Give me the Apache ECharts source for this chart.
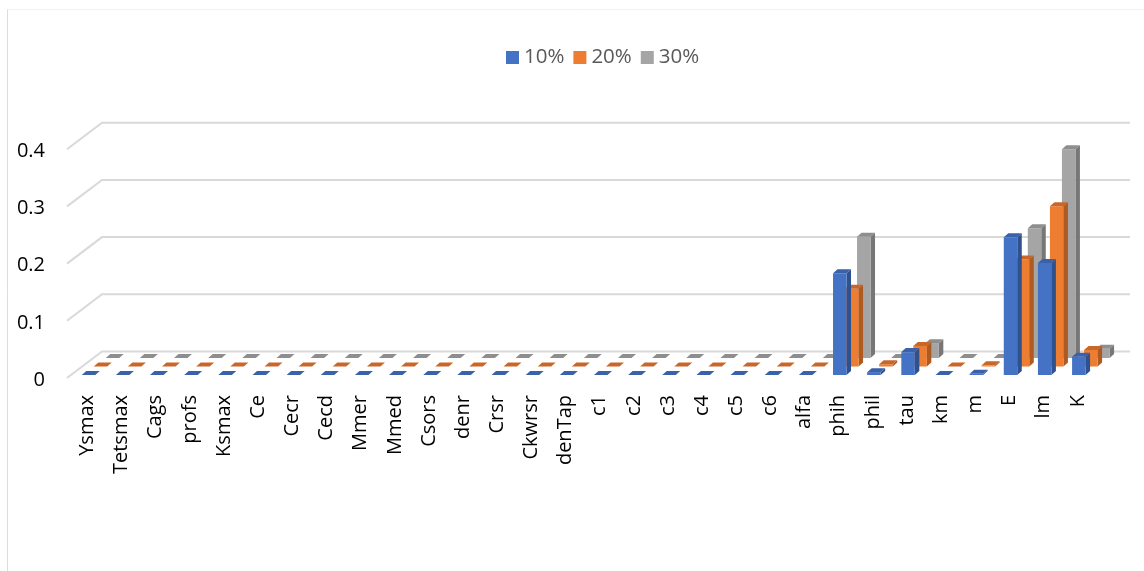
<!DOCTYPE html>
<html>
<head>
<meta charset="utf-8">
<script src="https://cdn.jsdelivr.net/npm/echarts@6/dist/echarts.min.js"></script>
<style>
  html, body { margin: 0; padding: 0; background: #ffffff; }
  #chart { width: 1144px; height: 571px; }
</style>
</head>
<body>
<div id="chart"></div>
<script>
// Parameter names along the category axis
const categories = ['Ysmax', 'Tetsmax', 'Cags', 'profs', 'Ksmax', 'Ce', 'Cecr', 'Cecd', 'Mmer', 'Mmed',
  'Csors', 'denr', 'Crsr', 'Ckwrsr', 'denTap', 'c1', 'c2', 'c3', 'c4', 'c5', 'c6',
  'alfa', 'phih', 'phil', 'tau', 'km', 'm', 'E', 'lm', 'K'];

// Sensitivity values per variation level
const s10 = [0, 0, 0, 0, 0, 0, 0, 0, 0, 0, 0, 0, 0, 0, 0, 0, 0, 0, 0, 0, 0,
  0, 0.178, 0.005, 0.040, 0, 0.002, 0.241, 0.196, 0.032];
const s20 = [0, 0, 0, 0, 0, 0, 0, 0, 0, 0, 0, 0, 0, 0, 0, 0, 0, 0, 0, 0, 0,
  0, 0.136, 0.004, 0.036, 0, 0.002, 0.187, 0.280, 0.029];
const s30 = [0, 0, 0, 0, 0, 0, 0, 0, 0, 0, 0, 0, 0, 0, 0, 0, 0, 0, 0, 0, 0,
  0, 0.212, 0, 0.026, 0, 0, 0.227, 0.365, 0.016];

const seriesNames = ['10%', '20%', '30%'];
const yTicks = [0, 0.1, 0.2, 0.3, 0.4];

// Face colours: front, side, top
const palette = [
  { front: '#4472C4', side: '#2F528F', top: '#3A62AA' },
  { front: '#ED7D31', side: '#AE5A21', top: '#C9672A' },
  { front: '#A5A5A5', side: '#777777', top: '#8E8E8E' }
];

const FONT = "'Open Sans', 'Noto Sans', sans-serif";

// Pseudo-3D geometry
const BAR_W = 13.5;      // front face width
const SIDE_DX = 4.5;     // depth of each bar (x)
const SIDE_DY = -4;      // depth of each bar (y)
const ROW_DX = 12;       // shift of each series row
const ROW_DY = -8.5;
const FLOOR_LIFT = 5;    // first row sits slightly behind the front edge
const WALL_DX = 35;      // wall depth for gridlines
const WALL_DY = -26.5;

function barSeries(k, values) {
  const col = palette[k];
  return {
    name: seriesNames[k],
    type: 'custom',
    z: 10 - k,
    clip: false,
    itemStyle: { color: col.front },
    encode: { x: 0, y: 1 },
    data: values.map((v, i) => [i, v]),
    renderItem: function (params, api) {
      const i = api.value(0);
      const v = api.value(1);
      const base = api.coord([i, 0]);
      const topP = api.coord([i, v]);
      const x0 = base[0] - 5.75 + ROW_DX * k;
      const yb = base[1] - FLOOR_LIFT + ROW_DY * k;
      const yt = topP[1] - FLOOR_LIFT + ROW_DY * k;
      const x1 = x0 + BAR_W;
      const children = [];
      if (yb - yt > 0.01) {
        children.push({
          type: 'polygon',
          shape: { points: [[x1, yb], [x1 + SIDE_DX, yb + SIDE_DY], [x1 + SIDE_DX, yt + SIDE_DY], [x1, yt]] },
          style: { fill: col.side }
        });
        children.push({
          type: 'rect',
          shape: { x: x0, y: yt, width: BAR_W, height: yb - yt },
          style: { fill: col.front }
        });
      }
      children.push({
        type: 'polygon',
        shape: { points: [[x0, yt], [x1, yt], [x1 + SIDE_DX, yt + SIDE_DY], [x0 + SIDE_DX, yt + SIDE_DY]] },
        style: { fill: col.top }
      });
      return { type: 'group', children: children };
    }
  };
}

const chart = echarts.init(document.getElementById('chart'), null, { renderer: 'canvas' });

const option = {
  backgroundColor: '#ffffff',
  animation: false,
  textStyle: { fontFamily: FONT },
  graphic: [
    { type: 'rect', shape: { x: 7.5, y: 9.5, width: 1150, height: 580 }, style: { fill: 'none', stroke: '#eef2f7', lineWidth: 1 }, z: -10 },
    { type: 'line', shape: { x1: 7.5, y1: 9.5, x2: 7.5, y2: 571 }, style: { stroke: '#d3dff1', lineWidth: 1 }, z: -10 }
  ],
  legend: {
    data: seriesNames,
    left: 501,
    top: 42,
    icon: 'rect',
    itemWidth: 13,
    itemHeight: 13,
    itemGap: 9,
    textStyle: { fontSize: 20.5, color: '#595959', fontFamily: FONT }
  },
  grid: { left: 70.4, right: 49.1, top: 151.2, bottom: 191 },
  xAxis: {
    type: 'category',
    data: categories,
    axisLine: { show: false },
    axisTick: { show: false },
    axisLabel: {
      rotate: 90,
      interval: 0,
      margin: 15,
      fontSize: 20,
      color: '#000000',
      fontFamily: FONT
    }
  },
  yAxis: {
    type: 'value',
    min: 0,
    max: 0.4,
    interval: 0.1,
    axisLine: { show: false },
    axisTick: { show: false },
    splitLine: { show: false },
    axisLabel: { fontSize: 20, color: '#000000', margin: 25.4, fontFamily: FONT }
  },
  series: [
    // Gridlines bent along the floor/left wall
    {
      type: 'custom',
      z: 1,
      clip: false,
      silent: true,
      encode: { x: 0, y: 1 },
      data: yTicks.map(v => [0, v]),
      renderItem: function (params, api) {
        const y = api.coord([0, api.value(1)])[1];
        const gx = params.coordSys.x - 3.4;
        const right = api.getWidth() - 14;
        return {
          type: 'polyline',
          shape: { points: [[gx, y - 2], [gx + WALL_DX, y - 2 + WALL_DY], [right, y - 2 + WALL_DY]] },
          style: { stroke: '#d9d9d9', lineWidth: 2, fill: null }
        };
      }
    },
    barSeries(0, s10),
    barSeries(1, s20),
    barSeries(2, s30)
  ]
};

chart.setOption(option);
</script>
</body>
</html>
